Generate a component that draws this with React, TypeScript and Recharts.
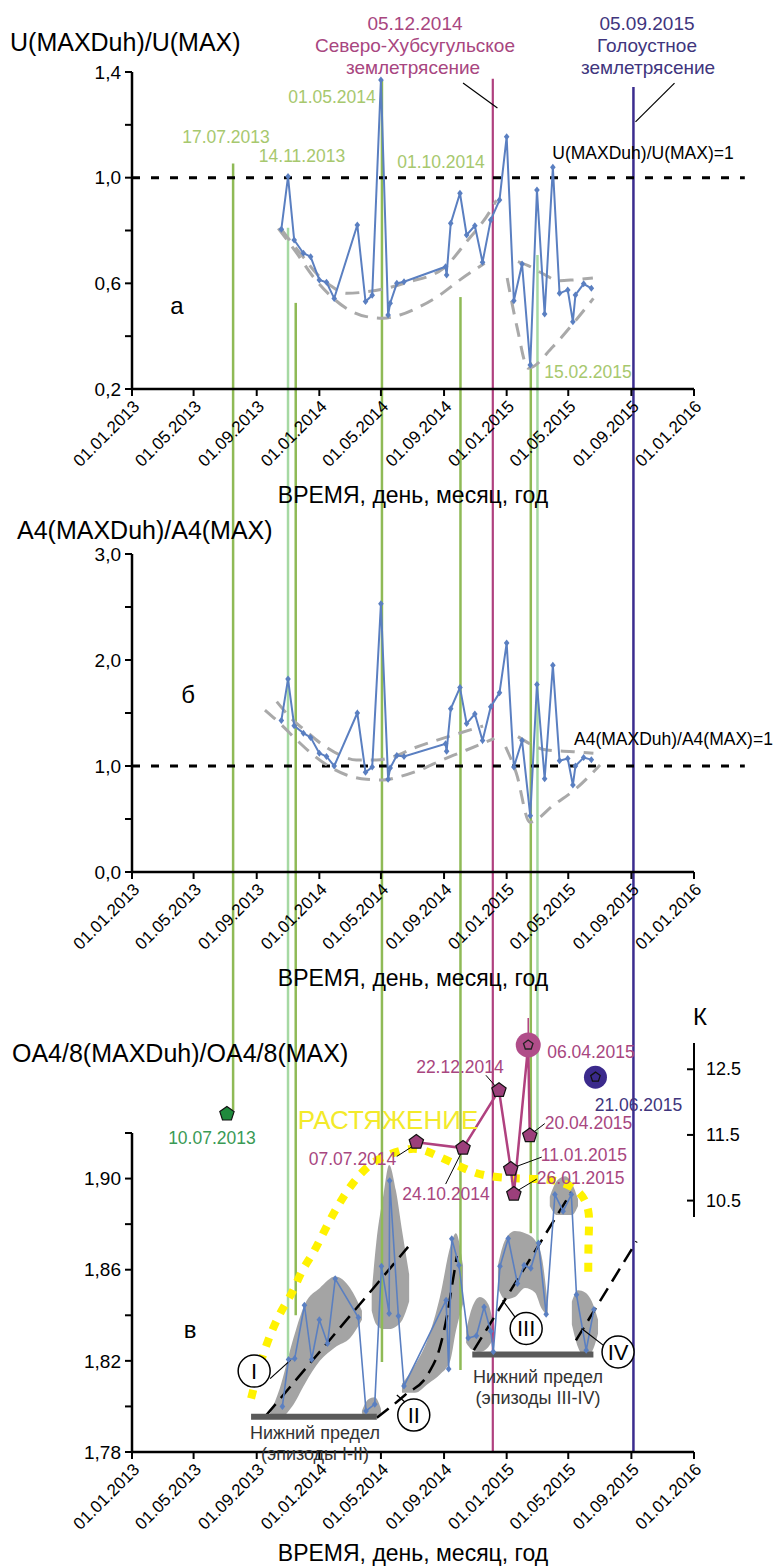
import React from 'react';
import { ComposedChart, Line, Area, Scatter, XAxis, YAxis, ReferenceLine, ReferenceDot } from 'recharts';

const FONT = '"Liberation Sans", Arial, Helvetica, sans-serif';

// ---- axes ----
const X_START = '2013-01-01';
const X_END = '2016-01-01';
const LEVEL_LINE_END = '2016-04-09';
const X_TICKS = ['2013-01-01', '2013-05-01', '2013-09-01', '2014-01-01', '2014-05-01', '2014-09-01', '2015-01-01', '2015-05-01', '2015-09-01', '2016-01-01'];
const X_TITLE = 'ВРЕМЯ, день, месяц, год';

const U_TICKS = [0.2, 0.4, 0.6, 0.8, 1.0, 1.2, 1.4];
const U_TICK_LABELS = ['0,2', '', '0,6', '', '1,0', '', '1,4'];
const A4_TICKS = [0, 0.5, 1, 1.5, 2, 2.5, 3];
const A4_TICK_LABELS = ['0,0', '', '1,0', '', '2,0', '', '3,0'];
const OA_TICKS = [1.78, 1.8, 1.82, 1.84, 1.86, 1.88, 1.9, 1.92];
const OA_TICK_LABELS = ['1,78', '', '1,82', '', '1,86', '', '1,90', ''];
const K_TICKS = [10.5, 11.5, 12.5];
const K_TICK_LABELS = ['10.5', '11.5', '12.5'];

// ---- panels a / б : observation dates and ratios ----
const RATIO_DATES = ['2013-10-19', '2013-11-01', '2013-11-13', '2013-12-01', '2013-12-15', '2014-01-01', '2014-01-15', '2014-01-30', '2014-03-16', '2014-04-01', '2014-04-14', '2014-05-01', '2014-05-15', '2014-05-19', '2014-06-01', '2014-06-15', '2014-09-04', '2014-09-06', '2014-09-14', '2014-10-02', '2014-10-15', '2014-10-31', '2014-11-15', '2014-12-01', '2014-12-18', '2015-01-01', '2015-01-15', '2015-01-31', '2015-02-16', '2015-03-01', '2015-03-16', '2015-04-01', '2015-04-14', '2015-04-30', '2015-05-10', '2015-05-15', '2015-05-31', '2015-06-15'];
const U_VALUES = [0.805, 1.004, 0.764, 0.714, 0.701, 0.613, 0.604, 0.543, 0.821, 0.531, 0.555, 1.37, 0.48, 0.525, 0.6, 0.606, 0.663, 0.632, 0.827, 0.941, 0.783, 0.818, 0.68, 0.84, 0.915, 1.155, 0.534, 0.673, 0.291, 0.953, 0.484, 1.039, 0.562, 0.575, 0.455, 0.556, 0.598, 0.581];
const A4_VALUES = [1.43, 1.82, 1.38, 1.31, 1.27, 1.12, 1.09, 1.0, 1.5, 0.94, 0.99, 2.53, 0.875, 0.98, 1.1, 1.09, 1.21, 1.14, 1.54, 1.74, 1.4, 1.49, 1.24, 1.56, 1.69, 2.16, 0.99, 1.24, 0.53, 1.77, 0.88, 1.95, 1.05, 1.07, 0.82, 1.0, 1.08, 1.06];

// envelopes (gray dashed)
const U_ENV_1_INNER: [string, number][] = [['2013-10-19', 0.805], ['2013-11-04', 0.764], ['2013-11-30', 0.701], ['2013-12-26', 0.638], ['2014-01-21', 0.594], ['2014-02-23', 0.562], ['2014-04-03', 0.568], ['2014-05-12', 0.581], ['2014-06-20', 0.603], ['2014-08-31', 0.657], ['2014-10-15', 0.758], ['2014-11-29', 0.871], ['2014-12-12', 0.915]];
const U_ENV_1_OUTER: [string, number][] = [['2013-10-13', 0.808], ['2013-11-18', 0.714], ['2013-12-20', 0.625], ['2014-01-21', 0.556], ['2014-02-23', 0.505], ['2014-04-03', 0.474], ['2014-05-05', 0.468], ['2014-06-07', 0.48], ['2014-07-16', 0.512], ['2014-08-24', 0.556], ['2014-10-02', 0.613], ['2014-11-19', 0.676]];
const U_ENV_2_INNER: [string, number][] = [['2015-01-23', 0.682], ['2015-02-15', 0.664], ['2015-03-10', 0.639], ['2015-04-14', 0.61], ['2015-05-11', 0.613], ['2015-06-18', 0.62]];
const U_ENV_2_OUTER: [string, number][] = [['2015-01-02', 0.62], ['2015-01-21', 0.436], ['2015-02-12', 0.279], ['2015-04-01', 0.36], ['2015-05-11', 0.449], ['2015-06-19', 0.543]];
const A4_ENV_1_INNER: [string, number][] = [['2013-10-10', 1.607], ['2013-11-04', 1.465], ['2013-12-07', 1.324], ['2014-01-08', 1.198], ['2014-02-10', 1.104], ['2014-03-14', 1.057], ['2014-04-22', 1.057], ['2014-05-25', 1.088], ['2014-07-03', 1.167], ['2014-09-19', 1.292], ['2014-11-16', 1.377]];
const A4_ENV_1_OUTER: [string, number][] = [['2013-09-17', 1.528], ['2013-10-16', 1.403], ['2013-11-18', 1.245], ['2013-12-20', 1.104], ['2014-01-21', 0.993], ['2014-02-23', 0.915], ['2014-04-03', 0.874], ['2014-05-05', 0.868], ['2014-06-07', 0.9], ['2014-07-16', 0.962], ['2014-08-31', 1.063], ['2014-10-15', 1.151], ['2014-12-08', 1.261]];
const A4_ENV_2_INNER: [string, number][] = [['2015-01-23', 1.277], ['2015-03-20', 1.151], ['2015-05-11', 1.135], ['2015-06-19', 1.12]];
const A4_ENV_2_OUTER: [string, number][] = [['2014-12-30', 1.18], ['2015-01-20', 0.93], ['2015-02-15', 0.47], ['2015-04-02', 0.63], ['2015-05-17', 0.79], ['2015-07-02', 1.01]];

// ---- panel в ----
const OA_DATES = ['2013-10-21', '2013-11-02', '2013-11-14', '2013-12-03', '2013-12-17', '2014-01-01', '2014-01-17', '2014-02-01', '2014-03-18', '2014-04-02', '2014-04-19', '2014-05-02', '2014-05-17', '2014-05-18', '2014-06-04', '2014-06-15', '2014-09-05', '2014-09-10', '2014-09-16', '2014-09-30', '2014-10-18', '2014-11-03', '2014-11-18', '2014-12-01', '2014-12-06', '2014-12-19', '2015-01-04', '2015-01-22', '2015-02-04', '2015-02-17', '2015-03-04', '2015-03-19', '2015-04-05', '2015-04-21', '2015-05-07', '2015-05-17', '2015-06-05', '2015-06-20'];
const OA_VALUES = [1.8, 1.8206, 1.821, 1.8444, 1.8206, 1.838, 1.8276, 1.856, 1.839, 1.798, 1.801, 1.8615, 1.8408, 1.899, 1.8397, 1.809, 1.8466, 1.8164, 1.8736, 1.862, 1.83, 1.831, 1.8436, 1.833, 1.824, 1.8615, 1.8737, 1.854, 1.862, 1.8606, 1.8717, 1.8404, 1.893, 1.8857, 1.893, 1.849, 1.8247, 1.8425];

// gray episode areas: [date, low, high]
const BLOB_I: [string, number, number][] = [['2013-09-27', 1.795, 1.797], ['2013-10-16', 1.795, 1.808], ['2013-11-09', 1.8, 1.828], ['2013-12-04', 1.81, 1.845], ['2014-01-02', 1.82, 1.852], ['2014-02-01', 1.826, 1.857], ['2014-03-02', 1.83, 1.852], ['2014-03-25', 1.838, 1.842]];
const BLOB_PEAK: [string, number, number][] = [['2014-04-13', 1.842, 1.85], ['2014-04-22', 1.836, 1.872], ['2014-05-06', 1.834, 1.893], ['2014-05-17', 1.834, 1.906], ['2014-05-30', 1.835, 1.895], ['2014-06-12', 1.838, 1.876], ['2014-06-25', 1.846, 1.858]];
const BLOB_FOOT: [string, number, number][] = [['2014-03-25', 1.797, 1.798], ['2014-04-06', 1.795, 1.803], ['2014-04-19', 1.795, 1.804], ['2014-05-01', 1.797, 1.799]];
const BLOB_II: [string, number, number][] = [['2014-06-11', 1.806, 1.81], ['2014-07-06', 1.806, 1.818], ['2014-08-01', 1.81, 1.83], ['2014-08-24', 1.814, 1.848], ['2014-09-13', 1.82, 1.87], ['2014-09-24', 1.833, 1.876], ['2014-10-08', 1.845, 1.862]];
const BLOB_OCT: [string, number, number][] = [['2014-10-14', 1.828, 1.833], ['2014-10-25', 1.825, 1.843], ['2014-11-10', 1.824, 1.848], ['2014-11-26', 1.826, 1.845], ['2014-12-07', 1.83, 1.835]];
const BLOB_III: [string, number, number][] = [['2014-12-15', 1.852, 1.862], ['2014-12-29', 1.847, 1.873], ['2015-01-17', 1.848, 1.877], ['2015-02-06', 1.852, 1.876], ['2015-02-25', 1.85, 1.873], ['2015-03-10', 1.843, 1.866], ['2015-03-22', 1.84, 1.845]];
const BLOB_TOP: [string, number, number][] = [['2015-03-26', 1.888, 1.892], ['2015-04-09', 1.884, 1.899], ['2015-04-25', 1.884, 1.901], ['2015-05-08', 1.884, 1.898], ['2015-05-20', 1.888, 1.891]];
const BLOB_IV: [string, number, number][] = [['2015-05-08', 1.836, 1.846], ['2015-05-20', 1.826, 1.851], ['2015-06-03', 1.822, 1.85], ['2015-06-16', 1.824, 1.846], ['2015-06-28', 1.832, 1.838]];

// black dashed trends
const TREND_I: [string, number][] = [['2013-09-19', 1.796], ['2014-06-23', 1.87]];
const TREND_II: [string, number][] = [['2014-04-23', 1.795], ['2014-06-17', 1.805], ['2014-08-02', 1.8146], ['2014-08-24', 1.826], ['2014-09-07', 1.84], ['2014-09-18', 1.855], ['2014-09-26', 1.866]];
const TREND_III: [string, number][] = [['2014-10-29', 1.8247], ['2015-05-07', 1.894]];
const TREND_IV: [string, number][] = [['2015-05-16', 1.829], ['2015-09-11', 1.8724]];

// yellow "РАСТЯЖЕНИЕ" arc
const STRETCH_ARC: [string, number][] = [['2013-08-21', 1.8035], ['2013-09-13', 1.824], ['2013-10-16', 1.8415], ['2013-11-10', 1.8496], ['2013-11-27', 1.8597], ['2013-12-20', 1.867], ['2014-01-08', 1.8758], ['2014-01-28', 1.8845], ['2014-02-16', 1.8918], ['2014-03-08', 1.8984], ['2014-04-03', 1.905], ['2014-04-29', 1.9093], ['2014-07-03', 1.9145], ['2014-08-11', 1.9108], ['2014-09-22', 1.9065], ['2014-10-31', 1.9021], ['2014-12-13', 1.9005], ['2015-01-28', 1.9], ['2015-03-06', 1.8999], ['2015-04-14', 1.8991], ['2015-05-27', 1.8945], ['2015-06-12', 1.8857], ['2015-06-10', 1.8772], ['2015-06-09', 1.867], ['2015-06-09', 1.8575]];

// lower limits
const LIMIT_FROM = ['2013-08-21', '2014-10-26'];
const LIMIT_TO = ['2014-04-23', '2015-06-19'];
const LIMIT_VALUE = [1.7955, 1.8228];

// episode markers
const EPISODE_LABELS = ['I', 'II', 'III', 'IV'];
const EPISODE_DATES = ['2013-08-27', '2014-07-04', '2015-02-08', '2015-08-06'];
const EPISODE_VALUES = [1.8155, 1.7962, 1.8342, 1.8239];
const EPISODE_LEADERS: [string, number][][] = [
  [['2013-09-27', 1.8122], ['2013-11-06', 1.8203]],
  [['2014-06-20', 1.8013], ['2014-06-01', 1.805]],
  [['2015-01-17', 1.8393], ['2014-12-24', 1.8466]],
  [['2015-07-08', 1.8269], ['2015-05-27', 1.8342]],
];

// energy class K
const K_LABELS = ['07.07.2014', '24.10.2014', '22.12.2014', '11.01.2015', '26.01.2015', '06.04.2015', '20.04.2015'];
const K_DATES = ['2014-07-09', '2014-10-08', '2014-12-17', '2015-01-09', '2015-01-15', '2015-02-12', '2015-02-15'];
const K_VALUES = [11.39, 11.3, 12.18, 10.98, 10.6, 12.87, 11.49];
const K_EARLY = { label: '10.07.2013', date: '2013-07-05', k: 11.82 };
const K_LATE = { label: '21.06.2015', date: '2015-06-23', k: 12.38 };

// event lines: date, top value in panel а, bottom value in panel в
const EVENT_DATES = ['2013-07-17', '2013-11-01', '2013-11-16', '2014-05-03', '2014-10-03', '2014-12-05', '2015-02-17', '2015-03-02', '2015-09-05'];
const EVENT_TOP_U = [1.054, 0.81, 0.526, 1.37, 0.548, 1.374, 0.3, 0.707, 1.343];
const EVENT_BOTTOM_OA = [1.93, 1.821, 1.84, 1.8195, 1.816, 1.78, 1.876, 1.872, 1.78];
const EVENT_KIND = ['olive', 'light', 'olive', 'olive', 'olive', 'quake1', 'olive', 'light', 'quake2'];

const TITLE_LEADERS: [string, number][][] = [
  [['2014-10-08', 1.358], ['2014-12-14', 1.264]],
  [['2015-11-24', 1.358], ['2015-09-09', 1.211]],
];

// ---- styles ----
const SERIES_BLUE = '#5a7fc1';
const ENVELOPE = '#a9a9a9';
const BLOB = '#a4a4a4';
const YELLOW = '#fff200';
const MAGENTA = '#b0417f';
const MAGENTA_TXT = '#a8467f';
const INDIGO = '#3b2d8f';
const INDIGO_TXT = '#40357d';
const LABEL_GREEN = '#a7c86e';
const K_FILL = '#9c3f7b';
const EVENT_STYLE: Record<string, { color: string; width: number }> = {
  olive: { color: '#8fba56', width: 2.5 },
  light: { color: '#a6d9a3', width: 2.5 },
  quake1: { color: MAGENTA, width: 2.2 },
  quake2: { color: INDIGO, width: 2.5 },
};
const K_LABEL_LAYOUT = [
  { dx: -20, dy: 17, anchor: 'end', leader: [-5, 5, -19.6, 14.3] },
  { dx: -17, dy: 46, anchor: 'middle', leader: [-2.4, 6, -17.4, 36] },
  { dx: -39, dy: -23, anchor: 'middle', leader: [-3.5, -4, -13, -15] },
  { dx: 30, dy: -14, anchor: 'start', leader: [4, -2, 31, -12] },
  { dx: 23, dy: -16, anchor: 'start', leader: [3, -3, 23, -15] },
  { dx: 19, dy: 7, anchor: 'start', leader: null, big: true },
  { dx: 15, dy: -13, anchor: 'start', leader: [2, -2, 15, -12] },
];

// ---- helpers ----
const ts = (s: string) => Date.UTC(+s.slice(0, 4), +s.slice(5, 7) - 1, +s.slice(8, 10));
const fmtDate = (t: number) => {
  const d = new Date(t);
  const p = (n: number) => String(n).padStart(2, '0');
  return `${p(d.getUTCDate())}.${p(d.getUTCMonth() + 1)}.${d.getUTCFullYear()}`;
};
const pairs = (list: [string, number][]) => list.map(([d, v]) => ({ t: ts(d), v }));
const ranges = (list: [string, number, number][]) => list.map(([d, lo, hi]) => ({ t: ts(d), r: [lo, hi] }));
const labelFor = (ticks: number[], labels: string[]) => (v: number) => labels[ticks.indexOf(v)] ?? '';
const pentagon = (cx: number, cy: number, r: number) =>
  Array.from({ length: 5 }, (_, k) => {
    const a = ((-90 + k * 72) * Math.PI) / 180;
    return `${k ? 'L' : 'M'}${(cx + r * Math.cos(a)).toFixed(1)},${(cy + r * Math.sin(a)).toFixed(1)}`;
  }).join('') + 'Z';

const X_DOMAIN = [ts(X_START), ts(X_END)];
const U_ROWS = RATIO_DATES.map((d, i) => ({ t: ts(d), v: U_VALUES[i] }));
const A4_ROWS = RATIO_DATES.map((d, i) => ({ t: ts(d), v: A4_VALUES[i] }));
const OA_ROWS = OA_DATES.map((d, i) => ({ t: ts(d), v: OA_VALUES[i] }));
const K_ROWS = K_DATES.map((d, i) => ({ t: ts(d), k: K_VALUES[i] }));

const renderDiamond = (p: any) => {
  if (p.cx == null || p.cy == null) return <g key={`d${p.index}`} />;
  const { cx, cy } = p;
  return <path key={`d${p.index}`} d={`M${cx},${cy - 3.5}L${cx + 2.8},${cy}L${cx},${cy + 3.5}L${cx - 2.8},${cy}Z`} fill={SERIES_BLUE} />;
};

const xAxis = (height: number, offset: number) => (
  <XAxis
    dataKey="t"
    type="number"
    domain={X_DOMAIN}
    ticks={X_TICKS.map(ts)}
    tickFormatter={fmtDate}
    interval={0}
    angle={-45}
    textAnchor="end"
    height={height}
    tickSize={7}
    tickMargin={3}
    tick={{ fontSize: 17, fill: '#000' }}
    axisLine={{ stroke: '#000', strokeWidth: 2.5 }}
    tickLine={{ stroke: '#000', strokeWidth: 2 }}
    label={{ value: X_TITLE, position: 'insideBottom', offset, fontSize: 23, fill: '#000' }}
  />
);

const yAxis = (domain: number[], ticks: number[], labels: string[]) => (
  <YAxis
    type="number"
    domain={domain}
    ticks={ticks}
    interval={0}
    tickFormatter={labelFor(ticks, labels)}
    width={132}
    tickSize={7}
    tickMargin={4}
    tick={{ fontSize: 19, fill: '#000' }}
    axisLine={{ stroke: '#000', strokeWidth: 2.5 }}
    tickLine={{ stroke: '#000', strokeWidth: 2 }}
  />
);

const eventLines = (panel: 'a' | 'b' | 'c', yMin: number, yMax: number, chartH: number) =>
  EVENT_DATES.map((d, i) => {
    const startsHere = panel === 'a';
    const endsHere = panel === 'c';
    const top = startsHere ? EVENT_TOP_U[i] : yMax;
    const bottom = endsHere ? EVENT_BOTTOM_OA[i] : yMin;
    const st = EVENT_STYLE[EVENT_KIND[i]];
    return (
      <ReferenceLine
        key={`ev-${panel}-${i}`}
        segment={[{ x: ts(d), y: top }, { x: ts(d), y: bottom }]}
        ifOverflow="visible"
        shape={(p: any) => (
          <line x1={p.x1} x2={p.x2} y1={startsHere ? p.y1 : 0} y2={endsHere ? p.y2 : chartH} stroke={st.color} strokeWidth={st.width} />
        )}
      />
    );
  });

const levelLine = (
  <ReferenceLine
    segment={[{ x: ts(X_START), y: 1 }, { x: ts(LEVEL_LINE_END), y: 1 }]}
    ifOverflow="visible"
    stroke="#000"
    strokeWidth={3}
    strokeDasharray="8 11"
  />
);

const envelope = (list: [string, number][], key: string) => (
  <Line key={key} data={pairs(list)} dataKey="v" type="monotone" stroke={ENVELOPE} strokeWidth={3} strokeDasharray="14 9" dot={false} activeDot={false} isAnimationActive={false} />
);

const blob = (list: [string, number, number][], key: string) => (
  <Area key={key} data={ranges(list)} dataKey="r" type="monotone" stroke="none" fill={BLOB} fillOpacity={1} dot={false} activeDot={false} isAnimationActive={false} />
);

const trend = (list: [string, number][], key: string, type: any = 'linear') => (
  <Line key={key} data={pairs(list)} dataKey="v" type={type} stroke="#000" strokeWidth={2.5} strokeDasharray="15 8" dot={false} activeDot={false} isAnimationActive={false} />
);

// ---- panels ----
const A_H = 512;
const B_H = 483;
const C_H = 572;

function PanelA() {
  return (
    <ComposedChart width={773} height={A_H} margin={{ top: 72, right: 79, bottom: 0, left: 0 }}>
      {xAxis(123, 9)}
      {yAxis([0.2, 1.4], U_TICKS, U_TICK_LABELS)}
      {eventLines('a', 0.2, 1.4, A_H)}
      {TITLE_LEADERS.map((seg, i) => (
        <ReferenceLine key={`tl${i}`} segment={seg.map(([d, v]) => ({ x: ts(d), y: v }))} stroke="#000" strokeWidth={1.2} />
      ))}
      {levelLine}
      {envelope(U_ENV_1_INNER, 'u1i')}
      {envelope(U_ENV_1_OUTER, 'u1o')}
      {envelope(U_ENV_2_INNER, 'u2i')}
      {envelope(U_ENV_2_OUTER, 'u2o')}
      <Line data={U_ROWS} dataKey="v" stroke={SERIES_BLUE} strokeWidth={2} dot={renderDiamond} activeDot={false} isAnimationActive={false} />
    </ComposedChart>
  );
}

function PanelB() {
  return (
    <ComposedChart width={773} height={B_H} margin={{ top: 42, right: 79, bottom: 0, left: 0 }}>
      {xAxis(123, 9)}
      {yAxis([0, 3], A4_TICKS, A4_TICK_LABELS)}
      {eventLines('b', 0, 3, B_H)}
      {levelLine}
      {envelope(A4_ENV_1_INNER, 'b1i')}
      {envelope(A4_ENV_1_OUTER, 'b1o')}
      {envelope(A4_ENV_2_INNER, 'b2i')}
      {envelope(A4_ENV_2_OUTER, 'b2o')}
      <Line data={A4_ROWS} dataKey="v" stroke={SERIES_BLUE} strokeWidth={2} dot={renderDiamond} activeDot={false} isAnimationActive={false} />
    </ComposedChart>
  );
}

function PanelC() {
  return (
    <ComposedChart width={773} height={C_H} margin={{ top: 138, right: 79, bottom: 0, left: 0 }}>
      {xAxis(115, 6)}
      {yAxis([1.78, 1.92], OA_TICKS, OA_TICK_LABELS)}
      {blob(BLOB_I, 'bl1')}
      {blob(BLOB_PEAK, 'bl2')}
      {blob(BLOB_FOOT, 'bl3')}
      {blob(BLOB_II, 'bl4')}
      {blob(BLOB_OCT, 'bl5')}
      {blob(BLOB_III, 'bl6')}
      {blob(BLOB_TOP, 'bl7')}
      {blob(BLOB_IV, 'bl8')}
      {eventLines('c', 1.78, 1.92, C_H)}
      {trend(TREND_I, 'tr1')}
      {trend(TREND_II, 'tr2', 'monotone')}
      {trend(TREND_III, 'tr3')}
      {trend(TREND_IV, 'tr4')}
      <Line data={pairs(STRETCH_ARC)} dataKey="v" type="basis" stroke={YELLOW} strokeWidth={8} strokeDasharray="9 9" dot={false} activeDot={false} isAnimationActive={false} />
      <Line data={OA_ROWS} dataKey="v" stroke={SERIES_BLUE} strokeWidth={1.6} dot={renderDiamond} activeDot={false} isAnimationActive={false} />
      {LIMIT_FROM.map((d, i) => (
        <ReferenceLine key={`lim${i}`} segment={[{ x: ts(d), y: LIMIT_VALUE[i] }, { x: ts(LIMIT_TO[i]), y: LIMIT_VALUE[i] }]} stroke="#5a5a5a" strokeWidth={6} />
      ))}
      {EPISODE_LEADERS.map((seg, i) => (
        <ReferenceLine key={`el${i}`} segment={seg.map(([d, v]) => ({ x: ts(d), y: v }))} stroke="#000" strokeWidth={1.2} />
      ))}
      {EPISODE_LABELS.map((lab, i) => (
        <ReferenceDot
          key={`ep${i}`}
          x={ts(EPISODE_DATES[i])}
          y={EPISODE_VALUES[i]}
          r={16}
          fill="#fff"
          stroke="#000"
          strokeWidth={1.5}
          label={{ value: lab, position: 'center', fontSize: 22, fill: '#000' }}
        />
      ))}
    </ComposedChart>
  );
}

const renderKTick = (p: any) => (
  <g key={`kt${p.index}`}>
    <line x1={p.x - 10} x2={p.x - 17} y1={p.y} y2={p.y} stroke="#000" strokeWidth={2} />
    <text x={p.x + 2} y={p.y} dominantBaseline="central" fontSize={18} fill="#000">
      {K_TICK_LABELS[K_TICKS.indexOf(p.payload.value)]}
    </text>
  </g>
);

const renderKDot = (p: any) => {
  const { cx, cy, index } = p;
  if (cx == null || cy == null) return <g key={`kd${index}`} />;
  const lay: any = K_LABEL_LAYOUT[index];
  return (
    <g key={`kd${index}`}>
      {lay.leader && (
        <line x1={cx + lay.leader[0]} y1={cy + lay.leader[1]} x2={cx + lay.leader[2]} y2={cy + lay.leader[3]} stroke="#000" strokeWidth={1} />
      )}
      {lay.big ? (
        <>
          <line x1={cx} x2={cx} y1={cy - 12} y2={cy - 27} stroke={MAGENTA} strokeWidth={1.5} />
          <circle cx={cx} cy={cy} r={12.5} fill="#b04d89" />
          <path d={pentagon(cx, cy, 5)} fill="none" stroke="#222" strokeWidth={1.3} />
        </>
      ) : (
        <path d={pentagon(cx, cy, 7.5)} fill={K_FILL} stroke="#111" strokeWidth={1.2} />
      )}
      <text x={cx + lay.dx} y={cy + lay.dy} textAnchor={lay.anchor} dominantBaseline="central" fontSize={17.5} fill={MAGENTA_TXT}>
        {K_LABELS[index]}
      </text>
    </g>
  );
};

function KChart() {
  return (
    <ComposedChart width={773} height={C_H} margin={{ top: 48, right: 0, bottom: 350, left: 132 }}>
      <XAxis dataKey="t" type="number" domain={X_DOMAIN} hide height={0} />
      <YAxis
        orientation="right"
        type="number"
        domain={[10.25, 12.9]}
        ticks={K_TICKS}
        interval={0}
        width={79}
        tickLine={false}
        tickSize={0}
        tickMargin={10}
        axisLine={{ stroke: '#000', strokeWidth: 2 }}
        tick={renderKTick}
      />
      <Line data={K_ROWS} dataKey="k" stroke={MAGENTA} strokeWidth={2.5} dot={renderKDot} activeDot={false} isAnimationActive={false} />
      <Scatter
        data={[{ t: ts(K_EARLY.date), k: K_EARLY.k }]}
        dataKey="k"
        isAnimationActive={false}
        shape={(p: any) => (
          <g>
            <path d={pentagon(p.cx, p.cy, 7.5)} fill="#1f8a3c" stroke="#111" strokeWidth={1.2} />
            <text x={p.cx - 15} y={p.cy + 24} textAnchor="middle" dominantBaseline="central" fontSize={17.5} fill="#3a9a55">
              {K_EARLY.label}
            </text>
          </g>
        )}
      />
      <Scatter
        data={[{ t: ts(K_LATE.date), k: K_LATE.k }]}
        dataKey="k"
        isAnimationActive={false}
        shape={(p: any) => (
          <g>
            <circle cx={p.cx} cy={p.cy} r={11.5} fill="#3b2a8c" />
            <path d={pentagon(p.cx, p.cy, 5)} fill="none" stroke="#111" strokeWidth={1.3} />
            <text x={p.cx + 43} y={p.cy + 28} textAnchor="middle" dominantBaseline="central" fontSize={17.5} fill={INDIGO_TXT}>
              {K_LATE.label}
            </text>
          </g>
        )}
      />
    </ComposedChart>
  );
}

function Txt({ x, y, size = 17.5, color = '#000', anchor = 'middle', children }: any) {
  const tx = anchor === 'middle' ? '-50%' : anchor === 'end' ? '-100%' : '0';
  return (
    <div
      style={{
        position: 'absolute',
        left: x,
        top: y,
        transform: `translate(${tx}, -50%)`,
        fontSize: size,
        color,
        whiteSpace: 'nowrap',
        lineHeight: 1,
      }}
    >
      {children}
    </div>
  );
}

export default function App() {
  return (
    <div style={{ position: 'absolute', left: 0, top: 0, width: 773, height: 1567, overflow: 'hidden', background: '#fff', fontFamily: FONT }}>
      <div style={{ position: 'absolute', left: 0, top: 0 }}>
        <PanelA />
      </div>
      <div style={{ position: 'absolute', left: 0, top: A_H }}>
        <PanelB />
      </div>
      <div style={{ position: 'absolute', left: 0, top: A_H + B_H }}>
        <PanelC />
      </div>
      <div style={{ position: 'absolute', left: 0, top: A_H + B_H }}>
        <KChart />
      </div>

      {/* panel а */}
      <Txt x={10} y={42} size={25} anchor="start">U(MAXDuh)/U(MAX)</Txt>
      <Txt x={415} y={23} size={19} color={MAGENTA_TXT}>05.12.2014</Txt>
      <Txt x={415} y={45} size={19} color={MAGENTA_TXT}>Северо-Хубсугульское</Txt>
      <Txt x={413} y={67} size={19} color={MAGENTA_TXT}>землетрясение</Txt>
      <Txt x={647} y={23} size={19} color={INDIGO_TXT}>05.09.2015</Txt>
      <Txt x={647} y={45} size={19} color={INDIGO_TXT}>Голоустное</Txt>
      <Txt x={648} y={67} size={19} color={INDIGO_TXT}>землетрясение</Txt>
      <Txt x={226} y={138} color={LABEL_GREEN}>17.07.2013</Txt>
      <Txt x={302} y={157} color={LABEL_GREEN}>14.11.2013</Txt>
      <Txt x={332} y={98} color={LABEL_GREEN}>01.05.2014</Txt>
      <Txt x={441} y={163} color={LABEL_GREEN}>01.10.2014</Txt>
      <Txt x={588} y={373} color={LABEL_GREEN}>15.02.2015</Txt>
      <Txt x={643} y={154}>U(MAXDuh)/U(MAX)=1</Txt>
      <Txt x={177} y={306} size={24}>а</Txt>

      {/* panel б */}
      <Txt x={17} y={530} size={25} anchor="start">A4(MAXDuh)/A4(MAX)</Txt>
      <Txt x={188} y={695} size={24}>б</Txt>
      <Txt x={574} y={740} anchor="start">A4(MAXDuh)/A4(MAX)=1</Txt>

      {/* panel в */}
      <Txt x={12} y={1053} size={25} anchor="start">OA4/8(MAXDuh)/OA4/8(MAX)</Txt>
      <Txt x={700} y={1017} size={24}>К</Txt>
      <Txt x={388} y={1120} size={26} color="#f3ea2a">РАСТЯЖЕНИЕ</Txt>
      <Txt x={190} y={1330} size={24}>в</Txt>
      <Txt x={315} y={1433} size={18} color="#333">Нижний предел</Txt>
      <Txt x={315} y={1454} size={18} color="#333">(эпизоды I-II)</Txt>
      <Txt x={538} y={1377} size={18} color="#333">Нижний предел</Txt>
      <Txt x={538} y={1398} size={18} color="#333">(эпизоды III-IV)</Txt>
    </div>
  );
}
